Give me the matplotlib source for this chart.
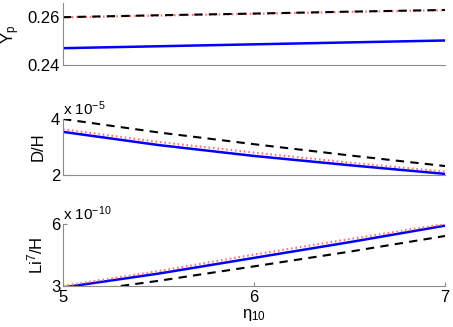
import numpy as np
import matplotlib
matplotlib.use("Agg")
import matplotlib.pyplot as plt

plt.rcParams['font.family'] = ['Liberation Sans', 'DejaVu Sans']
plt.rcParams['mathtext.fontset'] = 'custom'
plt.rcParams['mathtext.rm'] = 'Liberation Sans'
plt.rcParams['mathtext.it'] = 'Liberation Sans:italic'
plt.rcParams['mathtext.default'] = 'regular'

# baryon-to-photon ratio (x 1e10)
eta = [5.0, 5.5, 6.0, 6.5, 7.0]

# helium mass fraction
yp_solid = [0.2470, 0.2478, 0.2486, 0.2494, 0.2502]
yp_dash = [0.2599, 0.2607, 0.2614, 0.2622, 0.2629]
yp_dot = [0.2598, 0.2606, 0.2613, 0.2621, 0.2628]

# D/H in units of 1e-5
dh_solid = [3.54, 3.07, 2.68, 2.35, 2.04]
dh_dash = [4.00, 3.52, 3.10, 2.70, 2.32]
dh_dot = [3.63, 3.18, 2.80, 2.44, 2.12]

# Li7/H in units of 1e-10
li_solid = [2.93, 3.60, 4.36, 5.12, 5.92]
li_dash = [2.62, 3.25, 3.95, 4.66, 5.42]
li_dot = [3.00, 3.72, 4.52, 5.27, 6.00]

grey = '#8c8c8c'

fig = plt.figure(figsize=(4.53, 3.27), dpi=100)
left, width = 63 / 453, 382 / 453
ax1 = fig.add_axes([left, 1 - 65 / 327, width, 62 / 327])
ax2 = fig.add_axes([left, 1 - 175 / 327, width, 56 / 327])
ax3 = fig.add_axes([left, 1 - 286 / 327, width, 62 / 327])

panels = [
    (ax1, yp_solid, yp_dash, yp_dot, (0.24, 0.2658), [0.24, 0.26], ['0.24', '0.26'], 'Y$_p$', None),
    (ax2, dh_solid, dh_dash, dh_dot, (2, 4), [2, 4], ['2', '4'], 'D/H', 'x 10$^{-5}$'),
    (ax3, li_solid, li_dash, li_dot, (3, 6), [3, 6], ['3', '6'], 'Li$^7$/H', 'x 10$^{-10}$'),
]

for ax, s, d, o, ylim, yt, ytl, lab, mult in panels:
    ax.plot(eta, s, color='blue', lw=1.8, solid_capstyle='butt')
    ax.plot(eta, o, color='#ff7070', lw=1.6, linestyle=(0, (0.7, 1.3)))
    ax.plot(eta, d, color='black', lw=1.5, linestyle=(0, (4, 3)))
    ax.set_xlim(5, 7)
    ax.set_ylim(*ylim)
    ax.set_yticks(yt)
    ax.set_yticklabels(ytl)
    ax.set_ylabel(lab, fontsize=12)
    for sp in ['top', 'right']:
        ax.spines[sp].set_visible(False)
    for sp in ['left', 'bottom']:
        ax.spines[sp].set_color(grey)
    ax.tick_params(direction='in', length=3, color=grey, labelsize=12, pad=2)
    if mult:
        ax.text(0.0, 1.02, mult, transform=ax.transAxes, fontsize=11,
                ha='left', va='bottom')

for ax in (ax1, ax2):
    ax.set_xticks([])

ax3.set_xticks([5, 6, 7])
ax3.tick_params(axis='x', pad=3)
ax3.set_xlabel('η$_{10}$', fontsize=12, labelpad=1)

fig.savefig('out.png', dpi=100)
